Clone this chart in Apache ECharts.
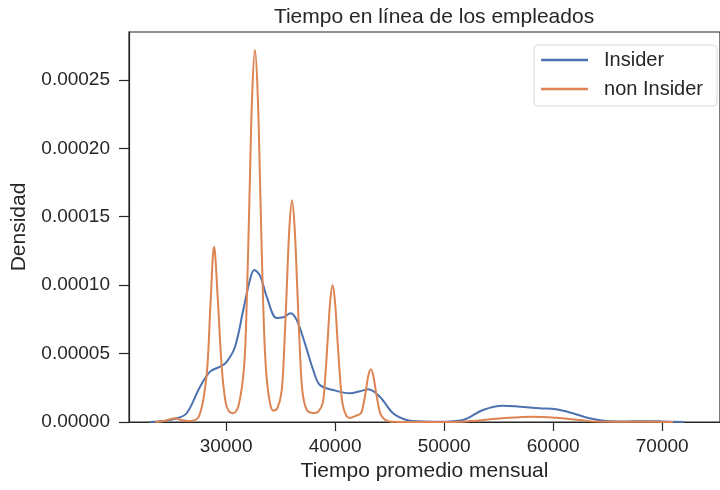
<!DOCTYPE html>
<html>
<head>
<meta charset="utf-8">
<script src="https://cdn.jsdelivr.net/npm/echarts@6/dist/echarts.min.js"></script>
<style>html,body{margin:0;padding:0;background:#fff}#c{width:720px;height:490px}</style>
</head>
<body>
<div id="c"></div>
<script>
// Insider density curve
const insiderX = [23000, 24300, 25480, 26390, 27618, 28534, 29450, 30060, 30824, 31583, 32197, 32591, 33113, 33727, 34640, 35250, 35917, 36474, 37232, 37993, 38606, 39823, 41350, 42300, 43030, 44100, 45320, 46550, 47700, 49500, 51730, 53560, 55390, 56920, 58750, 60270, 61800, 63330, 64860, 66500, 68500, 70000, 72000];
const insiderY = [0, 0.0000007, 0.0000027, 0.0000064, 0.0000258, 0.0000368, 0.0000404, 0.000044, 0.000055, 0.000082, 0.000104, 0.000111, 0.000107, 0.0000916, 0.000076, 0.0000765, 0.0000795, 0.0000746, 0.0000575, 0.000038, 0.000027, 0.0000234, 0.000021, 0.0000225, 0.0000239, 0.0000185, 0.0000064, 0.0000015, 0.0000005, 0.0000002, 0.0000015, 0.0000088, 0.0000119, 0.0000112, 0.000010, 0.0000093, 0.0000064, 0.0000027, 0.0000007, 0.0000004, 0.0000006, 0.0000004, 0];
// non Insider density curve
const nonInsiderX = [23500, 24260, 24800, 25330, 25900, 26500, 27300, 27618, 27950, 28285, 28590, 28900, 29250, 29600, 29950, 30250, 30670, 31150, 31650, 31900, 32150, 32400, 32650, 32900, 33150, 33400, 33650, 34000, 34330, 34700, 35090, 35330, 35570, 35810, 36050, 36290, 36530, 36770, 37010, 37400, 38000, 38450, 38870, 39100, 39320, 39550, 39770, 39990, 40220, 40450, 40670, 41000, 41350, 41900, 42380, 42600, 42830, 43050, 43280, 43500, 43730, 43950, 44180, 44600, 45200, 47000, 51000, 52950, 55330, 58080, 60270, 62420, 64000, 67000, 71000];
const nonInsiderY = [0, 0.0000007, 0.0000018, 0.0000027, 0.0000015, 0.0000007, 0.000002, 0.0000064, 0.000018, 0.0000404, 0.000089, 0.000128, 0.000089, 0.0000404, 0.000015, 0.000008, 0.0000064, 0.000012, 0.000040, 0.000088, 0.000165, 0.00024, 0.000272, 0.00024, 0.000165, 0.000088, 0.000040, 0.000015, 0.0000083, 0.000010, 0.000022, 0.000053, 0.000098, 0.000142, 0.000162, 0.000142, 0.000098, 0.000053, 0.000022, 0.000009, 0.0000066, 0.0000075, 0.000014, 0.000033, 0.00006, 0.000088, 0.0001, 0.000088, 0.00006, 0.000033, 0.000014, 0.000005, 0.000003, 0.0000045, 0.0000065, 0.000013, 0.000023, 0.000034, 0.0000385, 0.000034, 0.000023, 0.000013, 0.0000055, 0.0000015, 0.0000002, 0, 0, 0.000001, 0.0000027, 0.0000039, 0.0000031, 0.0000015, 0.0000003, 0.0000002, 0];
const xTicks = [30000, 40000, 50000, 60000, 70000];
const yTicks = [0, 0.00005, 0.0001, 0.00015, 0.0002, 0.00025];
const seriesNames = ['Insider', 'non Insider'];

const FONT = 'Liberation Sans, Arial, sans-serif';
const INK = '#262626';
const pairs = (xs, ys) => xs.map((x, i) => [x, ys[i]]);
const chart = echarts.init(document.getElementById('c'));
chart.setOption({
  animation: false,
  backgroundColor: '#ffffff',
  title: {
    text: 'Tiempo en línea de los empleados',
    left: 429, top: 2, textAlign: 'center',
    textStyle: {fontFamily: FONT, fontSize: 21, fontWeight: 'normal', color: INK}
  },
  legend: {
    orient: 'vertical', right: 3, top: 45,
    data: seriesNames,
    itemWidth: 47, itemHeight: 2.5, itemGap: 9,
    icon: 'rect',
    padding: [5, 14, 7, 7],
    borderColor: '#d9d9d9', borderWidth: 1, borderRadius: 4,
    textStyle: {fontFamily: FONT, fontSize: 20, color: INK, padding: [0, 0, 0, 11]}
  },
  grid: {left: 129, top: 32, width: 592, bottom: 68, show: true, borderColor: INK, borderWidth: 1.2},
  xAxis: {
    type: 'value', min: 21100, max: 75300,
    name: 'Tiempo promedio mensual', nameLocation: 'middle', nameGap: 36,
    nameTextStyle: {fontFamily: FONT, fontSize: 21, color: INK},
    axisLine: {show: true, lineStyle: {color: INK, width: 1.2}},
    axisTick: {show: true, length: 9, lineStyle: {color: INK, width: 1.2}, customValues: xTicks},
    axisLabel: {fontFamily: FONT, fontSize: 19, color: INK, margin: 15, customValues: xTicks, formatter: v => String(v)},
    splitLine: {show: false}
  },
  yAxis: {
    type: 'value', min: 0, max: 0.000285,
    name: 'Densidad', nameLocation: 'middle', nameGap: 99,
    nameTextStyle: {fontFamily: FONT, fontSize: 21, color: INK},
    axisLine: {show: true, lineStyle: {color: INK, width: 1.2}},
    axisTick: {show: true, length: 10, lineStyle: {color: INK, width: 1.2}, customValues: yTicks},
    axisLabel: {fontFamily: FONT, fontSize: 19, color: INK, margin: 19, customValues: yTicks, formatter: v => v.toFixed(5)},
    splitLine: {show: false}
  },
  series: [
    {name: seriesNames[0], type: 'line', data: pairs(insiderX, insiderY), showSymbol: false, smooth: 0.35,
     lineStyle: {color: '#4c72b0', width: 2}, itemStyle: {color: '#4c72b0'}},
    {name: seriesNames[1], type: 'line', data: pairs(nonInsiderX, nonInsiderY), showSymbol: false, smooth: 0.35,
     lineStyle: {color: '#dd8452', width: 2}, itemStyle: {color: '#dd8452'}}
  ]
});
</script>
</body>
</html>
